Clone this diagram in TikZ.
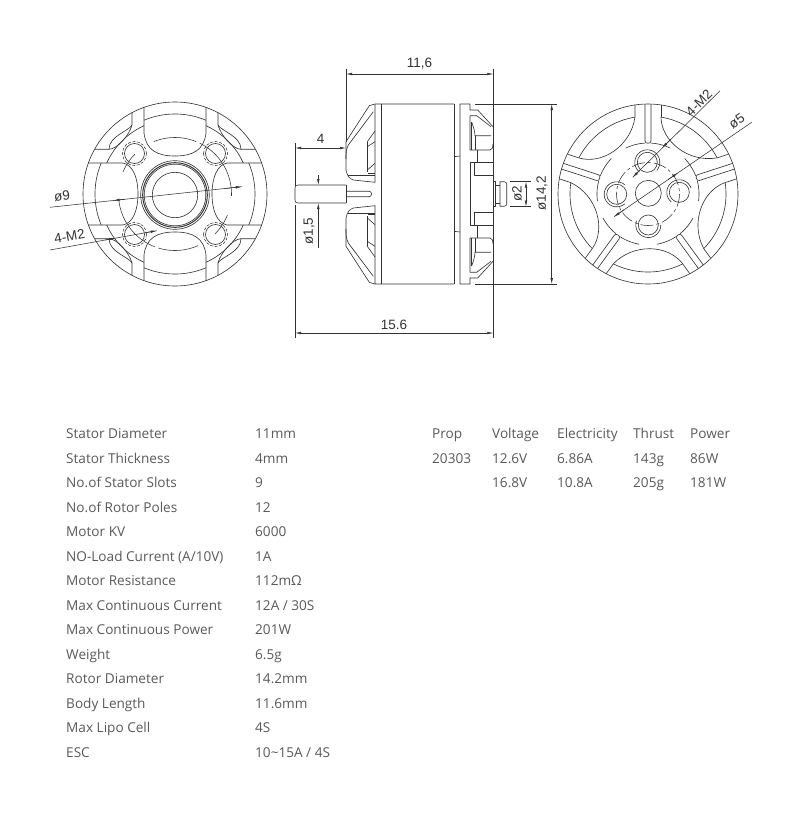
\documentclass[tikz,border=0pt]{standalone}
\usepackage{fontspec}
\setmainfont{Open Sans}
\newfontfamily\cadfont{Liberation Sans}
\usetikzlibrary{arrows.meta}
\definecolor{ink}{HTML}{333333}
\definecolor{txt}{HTML}{5A5A5A}
\newcommand{\ar}[3]{plot[domain=#2:#3,samples=30,smooth]({#1*cos(\x)},{#1*sin(\x)})}
\tikzset{
  ln/.style={draw=ink,line width=0.62pt,line join=round},
  dimline/.style={draw=ink,line width=0.55pt},
  tipped/.style={dimline,-{Latex[length=6pt,width=2.6pt]}},
  dashring/.style={draw=ink,line width=0.55pt,dash pattern=on 3pt off 1.5pt},
  chain/.style={draw=ink,line width=0.55pt,dash pattern=on 13pt off 3pt on 3pt off 3pt},
  cad/.style={font=\cadfont\fontsize{13.5}{13.5}\selectfont,text=ink,inner sep=0pt},
  tb/.style={font=\fontsize{13.6}{16}\selectfont,text=txt,anchor=base west,inner sep=0pt}
}
\begin{document}
\begin{tikzpicture}[x=1pt,y=-1pt]
\useasboundingbox (0,0) rectangle (800,819);
\fill[white] (0,0) rectangle (800,819);

%% ---------- left view
\begin{scope}[shift={(175,194)}]
  \draw[ln] (0,0) circle[radius=92];
  \draw[ln] (0,1) circle[radius=22.7];
  \draw[ln] (0,1) circle[radius=34.3];
  \draw[ln] (0,1) circle[radius=30.8];
  \draw[ln,line width=1pt] (0,1) circle[radius=32.3];
  \draw[ln] \ar{80}{247.2}{292.8};
  \draw[ln] \ar{80}{67.2}{112.8};
  \draw[ln] \ar{80}{157.2}{202.8};
  \draw[ln] \ar{80}{-22.8}{22.8};
  \foreach \sx/\sy in {1/1,-1/1,1/-1,-1/-1}{
    \begin{scope}[xscale=\sx,yscale=\sy]
      \draw[ln] (-31,-86.6) -- (-31,-61) .. controls (-29,-44) and (-18,-38) .. (0,-38);
      \draw[ln] (-86.6,-31) -- (-52,-31) .. controls (-42,-29) and (-37,-16) .. (-37,0);
      \draw[ln] \ar{75}{204.4}{245.6};
      \draw[ln] (-43,-81.3) -- (-43,-69) .. controls (-46,-58) and (-58,-45) .. (-66,-44.7) -- (-80.4,-44.7);
      \draw[ln] (-43,-69) .. controls (-46,-63) and (-66,-58) .. (-66,-44.7);
      \draw[ln] (-40.5,-40.5) circle[radius=10];
      \draw[dashring] (-40.5,-40.5) circle[radius=12];
    \end{scope}
  }
  \draw[dimline] \ar{56.5}{248}{292};
  \draw[dimline] \ar{56.5}{296}{362};
  \draw[dimline] \ar{56.5}{111}{173};
  \draw[dimline] \ar{56.5}{66}{107};
  \draw[dimline] \ar{56.5}{203}{225};
  \draw[dimline] \ar{56.5}{22}{45};
\end{scope}
\coordinate (n9a) at (50,207.3);
\coordinate (n9b) at (241.7,186.7);
\coordinate (n9c) at (113.5,200.5);
\draw[dimline] (n9a) -- (n9b);
\draw[tipped] (125,199.3) -- (n9c);
\draw[tipped] (225,188.5) -- (n9b);
\coordinate (m2a) at (50,250);
\coordinate (m2b) at (156.7,230.7);
\coordinate (m2c) at (115,238.2);
\draw[dimline] (m2a) -- (m2b);
\draw[tipped] (105,240) -- (m2c);
\draw[tipped] (145,232.8) -- (m2b);
\node[cad,rotate=6] (d9) at (62,196) {ø9};
\node[cad,rotate=10] (dm2l) at (69.5,236) {4-M2};

%% ---------- side view
\foreach \s in {1,-1}{
\begin{scope}[shift={(0,194)},yscale=\s]
  % shaft
  \draw[ln] (346,-9) -- (298,-9) .. controls (296,-9) and (295,-8) .. (295,-6) -- (295,0);
  \draw[ln] (346,0) -- (346,-9);
  \draw[ln] (346,-2.8) -- (369,-2.8) .. controls (371,-2.8) and (371.5,-1) .. (371.5,0);
  % bell
  \draw[ln] (346,-35) -- (346,-52.3) -- (369.3,-88.3) -- (375,-90) -- (454,-90);
  \draw[ln] (373.3,-82.3) -- (348.3,-49) .. controls (346,-44) and (346,-41) .. (346,-35)
     -- (346,-24) .. controls (347,-18) and (350,-15) .. (353.3,-14) -- (375,-11.7) -- (375,-90);
  \draw[ln] (348,-19) -- (375,-19);
  \draw[ln] (367.3,-52.3) -- (367.3,-22);
  \draw[ln] (367.3,-52.3) -- (375,-63);
  \draw[ln] (367.3,-47.3) -- (375,-52.3);
  \draw[ln] (367.3,-24) -- (375,-30.7);
  \draw[ln] (368,-20.7) -- (375,-20.7);
  % body
  \draw[ln] (381.7,-90) -- (381.7,0);
  \draw[ln] (454,-90) -- (454,0);
  \draw[ln] (454,-37.3) -- (460,-38);
  % rear plate
  \draw[ln] (460,0) -- (460,-90) -- (470,-90) -- (470,-84) -- (477.7,-84) -- (493,-67.3);
  \draw[ln] (470,-78.3) -- (476.7,-78.3) -- (491,-67.3);
  \draw[ln] (470,-78.3) -- (470,-44) -- (490,-44) .. controls (492.5,-44) and (493,-47) .. (493,-50);
  \draw[ln] (471.7,-72) .. controls (473,-68) and (475,-63) .. (475,-58.3) -- (491,-58.3);
  \draw[ln] (471.7,-72) -- (471.7,-44);
  \draw[ln] (475,-58.3) -- (475,-44);
  \draw[ln] (477.7,-44) -- (477.7,-31.3);
  \draw[ln] (493,-31.3) -- (470,-31.3) -- (470,0);
  \draw[ln] (474,-31.3) -- (474,-18.7) -- (493,-18.7);
  % shaft cap
  \draw[ln] (493,-12.3) -- (495,-12.3) -- (495,0);
  \draw[ln] (495,-9) -- (500,-9);
  \draw[ln] (500,0) -- (500,-12.3) -- (504,-12.3) .. controls (506,-12.3) and (506.7,-11) .. (506.7,-9.5) -- (506.7,0);
\end{scope}
}
% side-view dimensions
\coordinate (t1) at (346,74);
\coordinate (t2) at (493.3,74);
\coordinate (b1) at (295,333);
\coordinate (b2) at (493.3,333);
\coordinate (f1) at (295,148);
\coordinate (f2) at (346,148);
\draw[dimline] (346,69) -- (346,142);
\draw[dimline] (493.3,69) -- (493.3,338);
\draw[dimline] (295,143) -- (295,186);
\draw[dimline] (295,205) -- (295,338);
\draw[dimline,{Latex[length=6pt,width=2.6pt]}-{Latex[length=6pt,width=2.6pt]}] (t1) -- (t2);
\draw[dimline,{Latex[length=6pt,width=2.6pt]}-{Latex[length=6pt,width=2.6pt]}] (b1) -- (b2);
\draw[dimline,{Latex[length=6pt,width=2.6pt]}-{Latex[length=6pt,width=2.6pt]}] (f1) -- (f2);
\node[cad] (d116) at (419.5,63.5) {11,6};
\node[cad] (d156) at (394,324.5) {15.6};
\node[cad] (d4) at (320.5,139) {4};
% shaft diameter
\coordinate (s1) at (318.3,185);
\coordinate (s2) at (318.3,203);
\draw[tipped] (318.3,175) -- (s1);
\draw[tipped] (318.3,248) -- (s2);
\node[cad,rotate=90] (d15) at (309,231) {ø1,5};
% cap diameter
\coordinate (c1) at (526,181.7);
\coordinate (c2) at (526,206.7);
\draw[dimline] (510,181.7) -- (531,181.7);
\draw[dimline] (510,206.7) -- (531,206.7);
\draw[dimline,{Latex[length=6pt,width=2.6pt]}-{Latex[length=6pt,width=2.6pt]}] (c1) -- (c2);
\node[cad,rotate=90] (d2) at (517,194) {ø2};
% body diameter
\coordinate (o1) at (551.7,104);
\coordinate (o2) at (551.7,284);
\draw[dimline] (475,104) -- (557,104);
\draw[dimline] (475,284) -- (557,284);
\draw[dimline,{Latex[length=6pt,width=2.6pt]}-{Latex[length=6pt,width=2.6pt]}] (o1) -- (o2);
\node[cad,rotate=90] (d142) at (542,193) {ø14,2};

%% ---------- right view
\begin{scope}[shift={(648,194)}]
  \draw[ln] (0,0) circle[radius=90];
  \draw[ln] (0.3,-0.7) circle[radius=13];
  \foreach \k in {0,1,2,3,4}{
    \begin{scope}[rotate=72*\k]
      \draw[ln] (-13,-89) -- (-13,-77) .. controls (-17,-48) and (-46,-29) .. (-69.1,-36.1);
      \draw[ln] (13,-89) -- (13,-77);
      \draw[ln] \ar{78}{207.6}{260.4};
      \draw[ln] (-3,-89.9) -- (-3,-53) .. controls (-3,-50) and (3,-50) .. (3,-53) -- (3,-89.9);
      \draw[ln] \ar{51}{244}{267};
      \draw[ln] \ar{51}{273}{296};
    \end{scope}
  }
  \draw[chain] (0,0) circle[radius=31.5];
  \foreach \hx/\hy/\a/\b in {-0.7/-31.7/130/400, -31.3/0.3/50/310, 31.3/-1.7/130/340, 0.3/31/0/200}{
    \draw[ln] (\hx,\hy) circle[radius=10];
    \begin{scope}[shift={(\hx,\hy)}]
      \draw[ln] \ar{12.5}{\a}{\b};
    \end{scope}
  }
\end{scope}
\coordinate (r4a) at (720,90.7);
\coordinate (r4b) at (632.7,177.3);
\coordinate (r4c) at (662,148);
\draw[dimline] (r4a) -- (r4b);
\draw[tipped] (640,170) -- (r4b);
\draw[tipped] (671,139) -- (r4c);
\coordinate (r5a) at (751.7,122.3);
\coordinate (r5b) at (614,216.7);
\coordinate (r5c) at (678,172.8);
\draw[dimline] (r5a) -- (r5b);
\draw[tipped] (624,209.8) -- (r5b);
\draw[tipped] (668,179.6) -- (r5c);
\node[cad,rotate=45] (dm2r) at (699,103) {4-M2};
\node[cad,rotate=35] (d5) at (736.7,121) {ø5};

%% ---------- specification table
\foreach \i/\y/\a/\b in {
 1/438.5/Stator Diameter/11mm,
 2/463/Stator Thickness/4mm,
 3/487.5/No.of Stator Slots/9,
 4/512/No.of Rotor Poles/12,
 5/536.5/Motor KV/6000,
 6/561/NO-Load Current (A\slash 10V)/1A,
 7/585.5/Motor Resistance/112mΩ,
 8/610/Max Continuous Current/12A \slash\ 30S,
 9/634.5/Max Continuous Power/201W,
 10/659/Weight/6.5g,
 11/683.5/Rotor Diameter/14.2mm,
 12/708/Body Length/11.6mm,
 13/732.5/Max Lipo Cell/4S,
 14/757/ESC/10\textasciitilde 15A \slash\ 4S}{
  \node[tb] (L\i) at (66,\y) {\a};
  \node[tb] (V\i) at (255,\y) {\b};
}
\foreach \n/\x/\t in {a/432/Prop,b/492/Voltage,c/557/Electricity,d/633/Thrust,e/690/Power}{
  \node[tb] (H\n) at (\x,438.5) {\t};
}
\foreach \n/\x/\t in {a/432/20303,b/492/12.6V,c/557/6.86A,d/633/143g,e/690/86W}{
  \node[tb] (R\n) at (\x,463) {\t};
}
\foreach \n/\x/\t in {b/492/16.8V,c/557/10.8A,d/633/205g,e/690/181W}{
  \node[tb] (S\n) at (\x,487.5) {\t};
}
\end{tikzpicture}
\end{document}
